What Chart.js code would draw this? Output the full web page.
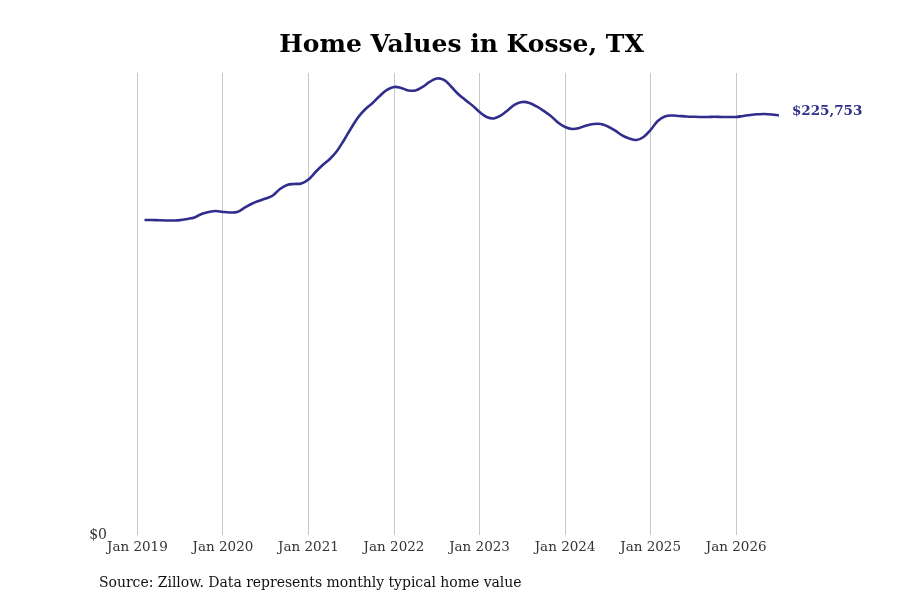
<!DOCTYPE html>
<html>
<head>
<meta charset="utf-8">
<script src="https://cdn.jsdelivr.net/npm/chart.js@4.4.1/dist/chart.umd.min.js"></script>
<style>
  html, body { margin: 0; padding: 0; background: #fff; }
  #wrap { position: relative; width: 900px; height: 600px; }
  #source { position: absolute; left: 99px; top: 574px; font: 14px "DejaVu Serif", serif; color: #111; white-space: nowrap; letter-spacing: -0.03px; }
</style>
</head>
<body>
<div id="wrap">
  <canvas id="c" width="900" height="600"></canvas>
  <div id="source">Source: Zillow. Data represents monthly typical home value</div>
</div>
<script>
// Month index 0 = Jan 2019
const startMonth = 1; // Feb 2019
const values = [
  169517, 169517, 169356, 169248, 169248, 169410, 170055, 170863, 172746, 173822, 174361,
  173822, 173553, 173822, 175975, 178128, 179742, 181087, 182702, 186200, 188353, 188891, 189160,
  191312, 195348, 199116, 202344, 206650, 212569, 219027, 224947, 229252, 232481, 236248, 239477,
  241091, 240553, 239208, 239208, 241091, 243782, 245665, 244858, 241360, 237324, 234095, 231135,
  227637, 224947, 224139, 225753, 228714, 231674, 233019, 232481, 230597, 228176, 225485, 221987,
  219565, 218489, 219027, 220372, 221180, 221180, 219834, 217682, 214991, 213377, 212569, 214184,
  217951, 222794, 225216, 225753, 225485, 225216, 225054, 224947, 224947, 225054, 224947, 224947,
  224947, 225485, 226023, 226400, 226561, 226292, 225753
];
const tickMonths = [0, 12, 24, 36, 48, 60, 72, 84];
const tickLabels = ["Jan 2019", "Jan 2020", "Jan 2021", "Jan 2022", "Jan 2023", "Jan 2024", "Jan 2025", "Jan 2026"];
const lastLabel = "$225,753";
const yMax = 248600;

const points = values.map((v, i) => ({ x: startMonth + i, y: v }));
const lineColor = '#302d8c';

const endLabel = {
  id: 'endLabel',
  afterDatasetsDraw(chart) {
    const meta = chart.getDatasetMeta(0);
    const p = meta.data[meta.data.length - 1];
    const ctx = chart.ctx;
    ctx.save();
    ctx.font = 'bold 13.5px "DejaVu Serif", serif';
    ctx.fillStyle = lineColor;
    ctx.textAlign = 'left';
    ctx.textBaseline = 'middle';
    ctx.fillText(lastLabel, p.x + 13, p.y - 4);
    ctx.restore();
  }
};

new Chart(document.getElementById('c'), {
  type: 'line',
  data: {
    datasets: [{
      data: points,
      borderColor: lineColor,
      borderWidth: 2.6,
      pointRadius: 0,
      tension: 0.4,
      fill: false
    }]
  },
  options: {
    responsive: false,
    animation: false,
    layout: { padding: { left: 30, right: 7, top: 0, bottom: 0 } },
    plugins: {
      legend: { display: false },
      tooltip: { enabled: false },
      title: {
        display: true,
        text: 'Home Values in Kosse, TX',
        font: { family: '"DejaVu Serif", serif', size: 25, weight: 'bold' },
        color: '#000',
        padding: { top: 30, bottom: 13 }
      }
    },
    scales: {
      x: {
        type: 'linear',
        min: -3,
        max: 106,
        afterBuildTicks(scale) { scale.ticks = tickMonths.map(v => ({ value: v })); },
        afterFit(scale) { scale.height = 65; },
        ticks: {
          autoSkip: false,
          maxRotation: 0,
          padding: 4,
          color: '#333',
          font: { family: '"DejaVu Serif", serif', size: 13.5 },
          callback(value) { const i = tickMonths.indexOf(value); return i >= 0 ? tickLabels[i] : ''; }
        },
        grid: { display: true, drawTicks: false, color: '#c8c8c8', lineWidth: 1 },
        border: { display: false }
      },
      y: {
        min: 0,
        max: yMax,
        afterBuildTicks(scale) { scale.ticks = [{ value: 0 }]; },
        afterFit(scale) { scale.width = 86; },
        ticks: {
          padding: 1,
          color: '#333',
          font: { family: '"DejaVu Serif", serif', size: 14 },
          callback(value) { return '$' + value.toLocaleString('en-US'); }
        },
        grid: { display: false },
        border: { display: false }
      }
    }
  },
  plugins: [endLabel]
});
</script>
</body>
</html>
